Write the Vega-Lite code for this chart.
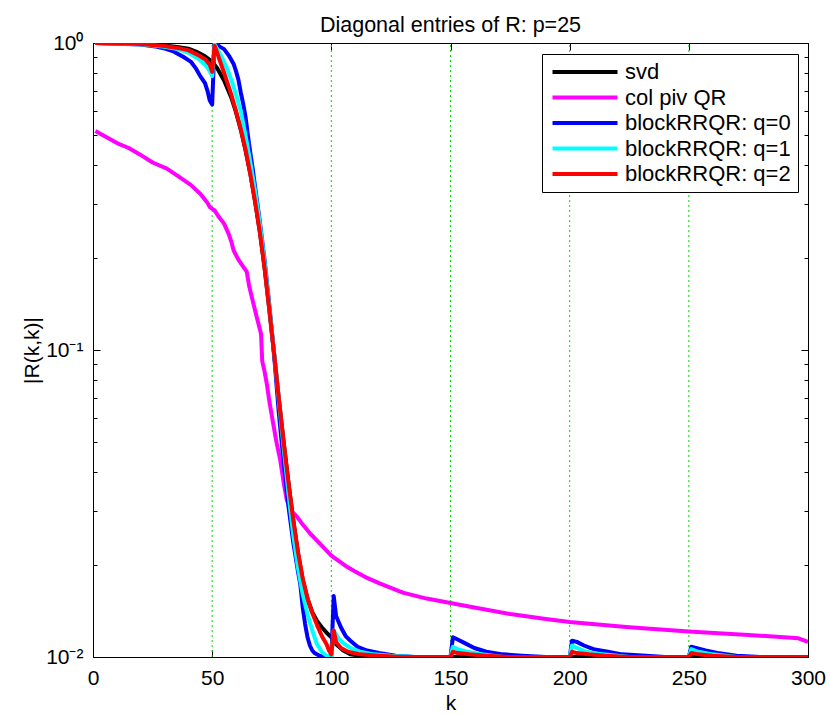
{
  "$schema": "https://vega.github.io/schema/vega-lite/v6.json",
  "width": 715,
  "height": 614,
  "autosize": {"type": "none"},
  "padding": {"left": 93, "top": 43, "right": 21, "bottom": 58},
  "background": "white",
  "title": {"text": "Diagonal entries of R: p=25", "fontSize": 21.5, "font": "Liberation Sans", "fontWeight": "normal", "color": "black", "anchor": "middle", "baseline": "alphabetic", "offset": -21},
  "config": {
    "view": {"stroke": "black", "strokeWidth": 1},
    "font": "Liberation Sans",
    "axis": {"labelFont": "Liberation Sans", "labelFontSize": 21, "labelColor": "black", "titleFont": "Liberation Sans", "titleFontSize": 21, "titleFontWeight": "normal", "titleColor": "black", "tickColor": "black", "domainColor": "black", "grid": false, "tickWidth": 1, "labelFlush": false, "labelOverlap": false, "domain": false}
  },
  "resolve": {"axis": {"x": "independent", "y": "independent"}},
  "layer": [
    {
      "data": {"values": [{"k": 50}, {"k": 100}, {"k": 150}, {"k": 200}, {"k": 250}]},
      "mark": {"type": "rule", "color": "#00dd00", "strokeDash": [2, 3], "strokeWidth": 1},
      "encoding": {
        "x": {"field": "k", "type": "quantitative", "scale": {"domain": [0, 300], "nice": false, "zero": false},
          "axis": {"orient": "top", "values": [0, 50, 100, 150, 200, 250, 300], "labels": false, "tickSize": -7, "title": null}},
        "y": {"datum": 0.01, "type": "quantitative", "scale": {"type": "log", "domain": [0.01, 1], "nice": false},
          "axis": {"orient": "right", "title": null, "labels": false,
            "values": [0.01, 0.02, 0.03, 0.04, 0.05, 0.06, 0.07, 0.08, 0.09, 0.1, 0.2, 0.3, 0.4, 0.5, 0.6, 0.7, 0.8, 0.9, 1],
            "tickSize": {"condition": {"test": "datum.value == 1 || datum.value == 0.1 || datum.value == 0.01", "value": -7}, "value": -4}}},
        "y2": {"datum": 1}
      }
    },
    {
      "data": {"values": [
        {"k":1,"v":1.0,"s":"svd"},{"k":10,"v":0.998,"s":"svd"},{"k":20,"v":0.993,"s":"svd"},{"k":30,"v":0.982,"s":"svd"},{"k":36,"v":0.968,"s":"svd"},{"k":40,"v":0.958,"s":"svd"},{"k":44,"v":0.932,"s":"svd"},{"k":47,"v":0.905,"s":"svd"},{"k":50,"v":0.87,"s":"svd"},{"k":52,"v":0.83,"s":"svd"},{"k":55,"v":0.755,"s":"svd"},{"k":58,"v":0.665,"s":"svd"},{"k":60,"v":0.595,"s":"svd"},{"k":62,"v":0.522,"s":"svd"},{"k":64,"v":0.447,"s":"svd"},{"k":66,"v":0.375,"s":"svd"},{"k":68,"v":0.305,"s":"svd"},{"k":70,"v":0.243,"s":"svd"},{"k":72,"v":0.185,"s":"svd"},{"k":74,"v":0.135,"s":"svd"},{"k":76,"v":0.097,"s":"svd"},{"k":78,"v":0.069,"s":"svd"},{"k":80,"v":0.05,"s":"svd"},{"k":82,"v":0.037,"s":"svd"},{"k":84,"v":0.028,"s":"svd"},{"k":86,"v":0.0218,"s":"svd"},{"k":88,"v":0.0178,"s":"svd"},{"k":90,"v":0.0155,"s":"svd"},{"k":92,"v":0.014,"s":"svd"},{"k":94,"v":0.0131,"s":"svd"},{"k":96,"v":0.0125,"s":"svd"},{"k":98,"v":0.012,"s":"svd"},{"k":100,"v":0.0116,"s":"svd"},{"k":102,"v":0.011,"s":"svd"},{"k":105,"v":0.0105,"s":"svd"},{"k":108,"v":0.0102,"s":"svd"},{"k":112,"v":0.0101,"s":"svd"},{"k":120,"v":0.01,"s":"svd"},{"k":300,"v":0.01,"s":"svd"},
        {"k":1,"v":0.517,"s":"col piv QR"},{"k":4,"v":0.502,"s":"col piv QR"},{"k":8,"v":0.482,"s":"col piv QR"},{"k":11,"v":0.468,"s":"col piv QR"},{"k":15,"v":0.455,"s":"col piv QR"},{"k":20,"v":0.432,"s":"col piv QR"},{"k":25,"v":0.408,"s":"col piv QR"},{"k":31,"v":0.39,"s":"col piv QR"},{"k":36,"v":0.367,"s":"col piv QR"},{"k":41,"v":0.345,"s":"col piv QR"},{"k":45,"v":0.323,"s":"col piv QR"},{"k":48,"v":0.302,"s":"col piv QR"},{"k":49,"v":0.292,"s":"col piv QR"},{"k":51,"v":0.285,"s":"col piv QR"},{"k":53,"v":0.27,"s":"col piv QR"},{"k":55,"v":0.258,"s":"col piv QR"},{"k":57,"v":0.238,"s":"col piv QR"},{"k":58,"v":0.226,"s":"col piv QR"},{"k":59,"v":0.211,"s":"col piv QR"},{"k":61,"v":0.197,"s":"col piv QR"},{"k":63,"v":0.187,"s":"col piv QR"},{"k":64.5,"v":0.18,"s":"col piv QR"},{"k":65.5,"v":0.162,"s":"col piv QR"},{"k":66.6,"v":0.149,"s":"col piv QR"},{"k":68.7,"v":0.128,"s":"col piv QR"},{"k":70.5,"v":0.113,"s":"col piv QR"},{"k":71,"v":0.092,"s":"col piv QR"},{"k":72,"v":0.085,"s":"col piv QR"},{"k":73,"v":0.077,"s":"col piv QR"},{"k":74,"v":0.068,"s":"col piv QR"},{"k":75.7,"v":0.057,"s":"col piv QR"},{"k":77,"v":0.05,"s":"col piv QR"},{"k":78.5,"v":0.044,"s":"col piv QR"},{"k":80,"v":0.037,"s":"col piv QR"},{"k":81.3,"v":0.0325,"s":"col piv QR"},{"k":83,"v":0.03,"s":"col piv QR"},{"k":85.5,"v":0.0287,"s":"col piv QR"},{"k":88,"v":0.027,"s":"col piv QR"},{"k":91,"v":0.0253,"s":"col piv QR"},{"k":95,"v":0.0235,"s":"col piv QR"},{"k":100,"v":0.0214,"s":"col piv QR"},{"k":106,"v":0.0198,"s":"col piv QR"},{"k":110,"v":0.019,"s":"col piv QR"},{"k":115,"v":0.0181,"s":"col piv QR"},{"k":120,"v":0.0174,"s":"col piv QR"},{"k":125,"v":0.0168,"s":"col piv QR"},{"k":130,"v":0.0162,"s":"col piv QR"},{"k":140,"v":0.0155,"s":"col piv QR"},{"k":150,"v":0.015,"s":"col piv QR"},{"k":160,"v":0.0145,"s":"col piv QR"},{"k":175,"v":0.0138,"s":"col piv QR"},{"k":190,"v":0.0133,"s":"col piv QR"},{"k":200,"v":0.013,"s":"col piv QR"},{"k":225,"v":0.0125,"s":"col piv QR"},{"k":250,"v":0.0121,"s":"col piv QR"},{"k":275,"v":0.0118,"s":"col piv QR"},{"k":290,"v":0.0116,"s":"col piv QR"},{"k":296,"v":0.0115,"s":"col piv QR"},{"k":300,"v":0.0112,"s":"col piv QR"},
        {"k":1,"v":1.0,"s":"blockRRQR: q=0"},{"k":10,"v":0.995,"s":"blockRRQR: q=0"},{"k":20,"v":0.988,"s":"blockRRQR: q=0"},{"k":27,"v":0.972,"s":"blockRRQR: q=0"},{"k":30,"v":0.96,"s":"blockRRQR: q=0"},{"k":34,"v":0.937,"s":"blockRRQR: q=0"},{"k":38,"v":0.9,"s":"blockRRQR: q=0"},{"k":41,"v":0.87,"s":"blockRRQR: q=0"},{"k":43,"v":0.83,"s":"blockRRQR: q=0"},{"k":45,"v":0.78,"s":"blockRRQR: q=0"},{"k":47,"v":0.74,"s":"blockRRQR: q=0"},{"k":48,"v":0.7,"s":"blockRRQR: q=0"},{"k":49,"v":0.65,"s":"blockRRQR: q=0"},{"k":50,"v":0.63,"s":"blockRRQR: q=0"},{"k":51,"v":1.0,"s":"blockRRQR: q=0"},{"k":52,"v":0.99,"s":"blockRRQR: q=0"},{"k":53,"v":0.975,"s":"blockRRQR: q=0"},{"k":55,"v":0.955,"s":"blockRRQR: q=0"},{"k":57,"v":0.91,"s":"blockRRQR: q=0"},{"k":59,"v":0.855,"s":"blockRRQR: q=0"},{"k":60,"v":0.81,"s":"blockRRQR: q=0"},{"k":61,"v":0.76,"s":"blockRRQR: q=0"},{"k":62,"v":0.69,"s":"blockRRQR: q=0"},{"k":63,"v":0.635,"s":"blockRRQR: q=0"},{"k":64,"v":0.575,"s":"blockRRQR: q=0"},{"k":65,"v":0.5,"s":"blockRRQR: q=0"},{"k":66,"v":0.44,"s":"blockRRQR: q=0"},{"k":67,"v":0.39,"s":"blockRRQR: q=0"},{"k":68,"v":0.34,"s":"blockRRQR: q=0"},{"k":70,"v":0.262,"s":"blockRRQR: q=0"},{"k":72,"v":0.196,"s":"blockRRQR: q=0"},{"k":74,"v":0.14,"s":"blockRRQR: q=0"},{"k":76,"v":0.096,"s":"blockRRQR: q=0"},{"k":78,"v":0.062,"s":"blockRRQR: q=0"},{"k":80,"v":0.043,"s":"blockRRQR: q=0"},{"k":82,"v":0.031,"s":"blockRRQR: q=0"},{"k":84,"v":0.0237,"s":"blockRRQR: q=0"},{"k":86,"v":0.019,"s":"blockRRQR: q=0"},{"k":87,"v":0.0172,"s":"blockRRQR: q=0"},{"k":88,"v":0.0145,"s":"blockRRQR: q=0"},{"k":89,"v":0.0128,"s":"blockRRQR: q=0"},{"k":90,"v":0.0116,"s":"blockRRQR: q=0"},{"k":91,"v":0.0109,"s":"blockRRQR: q=0"},{"k":92,"v":0.0105,"s":"blockRRQR: q=0"},{"k":93,"v":0.0103,"s":"blockRRQR: q=0"},{"k":95,"v":0.0101,"s":"blockRRQR: q=0"},{"k":97,"v":0.01,"s":"blockRRQR: q=0"},{"k":100,"v":0.01,"s":"blockRRQR: q=0"},{"k":101,"v":0.0158,"s":"blockRRQR: q=0"},{"k":102,"v":0.0136,"s":"blockRRQR: q=0"},{"k":104,"v":0.0125,"s":"blockRRQR: q=0"},{"k":106,"v":0.0117,"s":"blockRRQR: q=0"},{"k":108,"v":0.0113,"s":"blockRRQR: q=0"},{"k":111,"v":0.0108,"s":"blockRRQR: q=0"},{"k":115,"v":0.0105,"s":"blockRRQR: q=0"},{"k":120,"v":0.0103,"s":"blockRRQR: q=0"},{"k":127,"v":0.0101,"s":"blockRRQR: q=0"},{"k":135,"v":0.01,"s":"blockRRQR: q=0"},{"k":150,"v":0.01,"s":"blockRRQR: q=0"},{"k":151,"v":0.0116,"s":"blockRRQR: q=0"},{"k":153,"v":0.0114,"s":"blockRRQR: q=0"},{"k":156,"v":0.0111,"s":"blockRRQR: q=0"},{"k":160,"v":0.0107,"s":"blockRRQR: q=0"},{"k":165,"v":0.0104,"s":"blockRRQR: q=0"},{"k":172,"v":0.0102,"s":"blockRRQR: q=0"},{"k":180,"v":0.0101,"s":"blockRRQR: q=0"},{"k":190,"v":0.01,"s":"blockRRQR: q=0"},{"k":200,"v":0.01,"s":"blockRRQR: q=0"},{"k":201,"v":0.0113,"s":"blockRRQR: q=0"},{"k":203,"v":0.0112,"s":"blockRRQR: q=0"},{"k":206,"v":0.0109,"s":"blockRRQR: q=0"},{"k":210,"v":0.0106,"s":"blockRRQR: q=0"},{"k":216,"v":0.0104,"s":"blockRRQR: q=0"},{"k":222,"v":0.0102,"s":"blockRRQR: q=0"},{"k":232,"v":0.0101,"s":"blockRRQR: q=0"},{"k":240,"v":0.01,"s":"blockRRQR: q=0"},{"k":250,"v":0.01,"s":"blockRRQR: q=0"},{"k":251,"v":0.0108,"s":"blockRRQR: q=0"},{"k":253,"v":0.0107,"s":"blockRRQR: q=0"},{"k":257,"v":0.0105,"s":"blockRRQR: q=0"},{"k":262,"v":0.0103,"s":"blockRRQR: q=0"},{"k":270,"v":0.0101,"s":"blockRRQR: q=0"},{"k":280,"v":0.01,"s":"blockRRQR: q=0"},{"k":300,"v":0.01,"s":"blockRRQR: q=0"},
        {"k":1,"v":1.0,"s":"blockRRQR: q=1"},{"k":10,"v":0.997,"s":"blockRRQR: q=1"},{"k":20,"v":0.99,"s":"blockRRQR: q=1"},{"k":30,"v":0.972,"s":"blockRRQR: q=1"},{"k":35,"v":0.958,"s":"blockRRQR: q=1"},{"k":40,"v":0.93,"s":"blockRRQR: q=1"},{"k":44,"v":0.89,"s":"blockRRQR: q=1"},{"k":47,"v":0.85,"s":"blockRRQR: q=1"},{"k":49,"v":0.81,"s":"blockRRQR: q=1"},{"k":50,"v":0.78,"s":"blockRRQR: q=1"},{"k":51,"v":0.99,"s":"blockRRQR: q=1"},{"k":52,"v":0.96,"s":"blockRRQR: q=1"},{"k":54,"v":0.9,"s":"blockRRQR: q=1"},{"k":56,"v":0.835,"s":"blockRRQR: q=1"},{"k":58,"v":0.76,"s":"blockRRQR: q=1"},{"k":60,"v":0.68,"s":"blockRRQR: q=1"},{"k":62,"v":0.6,"s":"blockRRQR: q=1"},{"k":64,"v":0.5,"s":"blockRRQR: q=1"},{"k":66,"v":0.41,"s":"blockRRQR: q=1"},{"k":68,"v":0.33,"s":"blockRRQR: q=1"},{"k":70,"v":0.258,"s":"blockRRQR: q=1"},{"k":72,"v":0.193,"s":"blockRRQR: q=1"},{"k":74,"v":0.138,"s":"blockRRQR: q=1"},{"k":76,"v":0.098,"s":"blockRRQR: q=1"},{"k":78,"v":0.068,"s":"blockRRQR: q=1"},{"k":80,"v":0.048,"s":"blockRRQR: q=1"},{"k":82,"v":0.034,"s":"blockRRQR: q=1"},{"k":84,"v":0.025,"s":"blockRRQR: q=1"},{"k":86,"v":0.0195,"s":"blockRRQR: q=1"},{"k":88,"v":0.016,"s":"blockRRQR: q=1"},{"k":90,"v":0.0138,"s":"blockRRQR: q=1"},{"k":92,"v":0.0122,"s":"blockRRQR: q=1"},{"k":94,"v":0.011,"s":"blockRRQR: q=1"},{"k":96,"v":0.0104,"s":"blockRRQR: q=1"},{"k":98,"v":0.0101,"s":"blockRRQR: q=1"},{"k":100,"v":0.01,"s":"blockRRQR: q=1"},{"k":101,"v":0.0122,"s":"blockRRQR: q=1"},{"k":103,"v":0.0115,"s":"blockRRQR: q=1"},{"k":105,"v":0.0111,"s":"blockRRQR: q=1"},{"k":108,"v":0.0107,"s":"blockRRQR: q=1"},{"k":112,"v":0.0104,"s":"blockRRQR: q=1"},{"k":118,"v":0.0102,"s":"blockRRQR: q=1"},{"k":125,"v":0.0101,"s":"blockRRQR: q=1"},{"k":135,"v":0.01,"s":"blockRRQR: q=1"},{"k":150,"v":0.01,"s":"blockRRQR: q=1"},{"k":151,"v":0.0108,"s":"blockRRQR: q=1"},{"k":153,"v":0.0106,"s":"blockRRQR: q=1"},{"k":157,"v":0.0104,"s":"blockRRQR: q=1"},{"k":163,"v":0.0102,"s":"blockRRQR: q=1"},{"k":172,"v":0.01,"s":"blockRRQR: q=1"},{"k":200,"v":0.01,"s":"blockRRQR: q=1"},{"k":201,"v":0.0109,"s":"blockRRQR: q=1"},{"k":203,"v":0.0107,"s":"blockRRQR: q=1"},{"k":207,"v":0.0104,"s":"blockRRQR: q=1"},{"k":214,"v":0.0102,"s":"blockRRQR: q=1"},{"k":225,"v":0.01,"s":"blockRRQR: q=1"},{"k":250,"v":0.01,"s":"blockRRQR: q=1"},{"k":251,"v":0.0106,"s":"blockRRQR: q=1"},{"k":254,"v":0.0104,"s":"blockRRQR: q=1"},{"k":260,"v":0.0102,"s":"blockRRQR: q=1"},{"k":270,"v":0.01,"s":"blockRRQR: q=1"},{"k":300,"v":0.01,"s":"blockRRQR: q=1"},
        {"k":1,"v":1.0,"s":"blockRRQR: q=2"},{"k":10,"v":0.998,"s":"blockRRQR: q=2"},{"k":20,"v":0.992,"s":"blockRRQR: q=2"},{"k":30,"v":0.978,"s":"blockRRQR: q=2"},{"k":36,"v":0.962,"s":"blockRRQR: q=2"},{"k":40,"v":0.948,"s":"blockRRQR: q=2"},{"k":44,"v":0.915,"s":"blockRRQR: q=2"},{"k":47,"v":0.885,"s":"blockRRQR: q=2"},{"k":49,"v":0.85,"s":"blockRRQR: q=2"},{"k":50,"v":0.805,"s":"blockRRQR: q=2"},{"k":51,"v":0.98,"s":"blockRRQR: q=2"},{"k":52,"v":0.935,"s":"blockRRQR: q=2"},{"k":53,"v":0.885,"s":"blockRRQR: q=2"},{"k":55,"v":0.8,"s":"blockRRQR: q=2"},{"k":58,"v":0.68,"s":"blockRRQR: q=2"},{"k":60,"v":0.6,"s":"blockRRQR: q=2"},{"k":62,"v":0.525,"s":"blockRRQR: q=2"},{"k":64,"v":0.45,"s":"blockRRQR: q=2"},{"k":66,"v":0.375,"s":"blockRRQR: q=2"},{"k":68,"v":0.305,"s":"blockRRQR: q=2"},{"k":70,"v":0.243,"s":"blockRRQR: q=2"},{"k":72,"v":0.185,"s":"blockRRQR: q=2"},{"k":74,"v":0.135,"s":"blockRRQR: q=2"},{"k":76,"v":0.097,"s":"blockRRQR: q=2"},{"k":78,"v":0.069,"s":"blockRRQR: q=2"},{"k":80,"v":0.05,"s":"blockRRQR: q=2"},{"k":82,"v":0.037,"s":"blockRRQR: q=2"},{"k":84,"v":0.028,"s":"blockRRQR: q=2"},{"k":86,"v":0.022,"s":"blockRRQR: q=2"},{"k":88,"v":0.018,"s":"blockRRQR: q=2"},{"k":90,"v":0.0155,"s":"blockRRQR: q=2"},{"k":92,"v":0.0139,"s":"blockRRQR: q=2"},{"k":94,"v":0.0127,"s":"blockRRQR: q=2"},{"k":96,"v":0.0117,"s":"blockRRQR: q=2"},{"k":98,"v":0.011,"s":"blockRRQR: q=2"},{"k":99,"v":0.0105,"s":"blockRRQR: q=2"},{"k":100,"v":0.0102,"s":"blockRRQR: q=2"},{"k":101,"v":0.0122,"s":"blockRRQR: q=2"},{"k":102,"v":0.0112,"s":"blockRRQR: q=2"},{"k":104,"v":0.0107,"s":"blockRRQR: q=2"},{"k":107,"v":0.0104,"s":"blockRRQR: q=2"},{"k":112,"v":0.0102,"s":"blockRRQR: q=2"},{"k":120,"v":0.0101,"s":"blockRRQR: q=2"},{"k":130,"v":0.01,"s":"blockRRQR: q=2"},{"k":150,"v":0.01,"s":"blockRRQR: q=2"},{"k":151,"v":0.0104,"s":"blockRRQR: q=2"},{"k":153,"v":0.0103,"s":"blockRRQR: q=2"},{"k":158,"v":0.0102,"s":"blockRRQR: q=2"},{"k":165,"v":0.0101,"s":"blockRRQR: q=2"},{"k":175,"v":0.01,"s":"blockRRQR: q=2"},{"k":200,"v":0.01,"s":"blockRRQR: q=2"},{"k":201,"v":0.0104,"s":"blockRRQR: q=2"},{"k":203,"v":0.0103,"s":"blockRRQR: q=2"},{"k":208,"v":0.0102,"s":"blockRRQR: q=2"},{"k":215,"v":0.0101,"s":"blockRRQR: q=2"},{"k":225,"v":0.01,"s":"blockRRQR: q=2"},{"k":250,"v":0.01,"s":"blockRRQR: q=2"},{"k":251,"v":0.0103,"s":"blockRRQR: q=2"},{"k":254,"v":0.0102,"s":"blockRRQR: q=2"},{"k":260,"v":0.0101,"s":"blockRRQR: q=2"},{"k":270,"v":0.01,"s":"blockRRQR: q=2"},{"k":300,"v":0.01,"s":"blockRRQR: q=2"}
      ]},
      "mark": {"type": "line", "strokeWidth": 4, "clip": true, "strokeJoin": "round", "strokeCap": "butt"},
      "encoding": {
        "x": {"field": "k", "type": "quantitative", "scale": {"domain": [0, 300], "nice": false, "zero": false},
          "axis": {"orient": "bottom", "values": [0, 50, 100, 150, 200, 250, 300], "tickSize": -7, "labelPadding": 17, "title": "k", "titlePadding": 4}},
        "y": {"field": "v", "type": "quantitative", "scale": {"type": "log", "domain": [0.01, 1], "nice": false},
          "axis": {"orient": "left", "title": "|R(k,k)|", "titlePadding": 3, "labelPadding": 17,
            "values": [0.01, 0.02, 0.03, 0.04, 0.05, 0.06, 0.07, 0.08, 0.09, 0.1, 0.2, 0.3, 0.4, 0.5, 0.6, 0.7, 0.8, 0.9, 1],
            "labelExpr": "datum.value == 1 ? '10⁰' : datum.value == 0.1 ? '10⁻¹' : datum.value == 0.01 ? '10⁻²' : ''",
            "tickSize": {"condition": {"test": "datum.value == 1 || datum.value == 0.1 || datum.value == 0.01", "value": -7}, "value": -4}}},
        "color": {"field": "s", "type": "nominal",
          "scale": {"domain": ["svd", "col piv QR", "blockRRQR: q=0", "blockRRQR: q=1", "blockRRQR: q=2"], "range": ["#000000", "#ff00ff", "#0000ff", "#00ffff", "#ff0000"]},
          "legend": {"orient": "none", "legendX": 449, "legendY": 11, "title": null, "fillColor": "white", "strokeColor": "black", "padding": 7, "symbolType": "M-7.1,0H5.9", "symbolSize": 100, "symbolStrokeWidth": 4, "labelFontSize": 22, "labelFont": "Liberation Sans", "labelColor": "black", "labelOffset": 26, "rowPadding": 3.5, "symbolOffset": 28, "cornerRadius": 0, "labelLimit": 300}}
      }
    }
  ]
}
